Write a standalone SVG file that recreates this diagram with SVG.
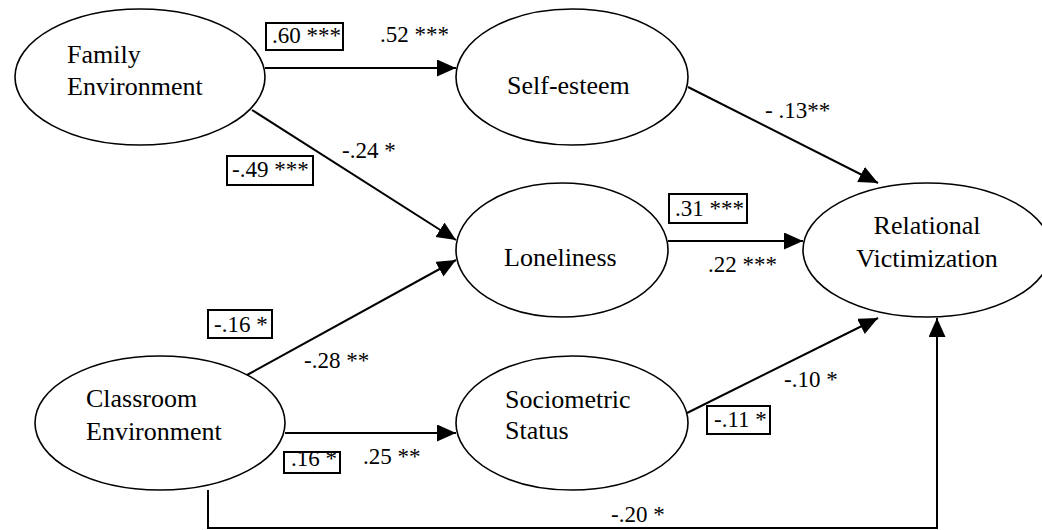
<svg xmlns="http://www.w3.org/2000/svg" width="1042" height="530" viewBox="0 0 1042 530">
<style>
.node{fill:#fff;stroke:#000;stroke-width:1.6}
.nt{font-size:26px;fill:#000}
.lt{font-size:23px;fill:#000}
.edge{fill:none;stroke:#000;stroke-width:2}
.box{fill:none;stroke:#000;stroke-width:2}
</style>
<defs>
<marker id="arr" markerUnits="userSpaceOnUse" markerWidth="20" markerHeight="18" refX="19" refY="8.5" orient="auto">
<path d="M0,0 L19,8.5 L0,17 z" fill="#000"/>
</marker>
</defs>
<rect width="1042" height="530" fill="#fff"/>
<g id="connectors">
<line class="edge" x1="265" y1="68" x2="456" y2="68" marker-end="url(#arr)"/>
<line class="edge" x1="252" y1="110" x2="456" y2="240" marker-end="url(#arr)"/>
<line class="edge" x1="688" y1="87" x2="878" y2="183" marker-end="url(#arr)"/>
<line class="edge" x1="668" y1="241" x2="803" y2="241" marker-end="url(#arr)"/>
<line class="edge" x1="247" y1="375" x2="456" y2="260" marker-end="url(#arr)"/>
<line class="edge" x1="285" y1="433" x2="456" y2="433" marker-end="url(#arr)"/>
<line class="edge" x1="687" y1="413" x2="878" y2="318" marker-end="url(#arr)"/>
<path class="edge" d="M208,490 V528 H937 V318" marker-end="url(#arr)"/>
</g>
<g font-family="Liberation Serif, Times New Roman, serif">
<g id="family">
<ellipse class="node" cx="140" cy="77" rx="125" ry="68"/>
<text class="nt" x="67" y="63">Family</text>
<text class="nt" x="67" y="95">Environment</text>
</g>
<g id="selfesteem">
<ellipse class="node" cx="572" cy="77" rx="116" ry="68"/>
<text class="nt" x="507" y="94">Self-esteem</text>
</g>
<g id="loneliness">
<ellipse class="node" cx="562" cy="250" rx="106" ry="67"/>
<text class="nt" x="504" y="266">Loneliness</text>
</g>
<g id="relational">
<ellipse class="node" cx="927" cy="250" rx="124" ry="67"/>
<text class="nt" x="927" y="234" text-anchor="middle">Relational</text>
<text class="nt" x="927" y="267" text-anchor="middle">Victimization</text>
</g>
<g id="classroom">
<ellipse class="node" cx="160" cy="423" rx="125" ry="67"/>
<text class="nt" x="86" y="407">Classroom</text>
<text class="nt" x="86" y="440">Environment</text>
</g>
<g id="sociometric">
<ellipse class="node" cx="572" cy="423" rx="116" ry="67"/>
<text class="nt" x="505" y="408">Sociometric</text>
<text class="nt" x="505" y="439">Status</text>
</g>
<g id="labels">
<rect class="box" x="266" y="23" width="77" height="27"/>
<text class="lt" x="272" y="43">.60 ***</text>
<text class="lt" x="380" y="42">.52 ***</text>
<rect class="box" x="227" y="156" width="86" height="29"/>
<text class="lt" x="232" y="177">-.49 ***</text>
<text class="lt" x="342" y="158">-.24 *</text>
<text class="lt" x="765" y="118">- .13**</text>
<rect class="box" x="669" y="194" width="78" height="29"/>
<text class="lt" x="675" y="216">.31 ***</text>
<text class="lt" x="708" y="272">.22 ***</text>
<rect class="box" x="208" y="310" width="64" height="28"/>
<text class="lt" x="214" y="332">-.16 *</text>
<text class="lt" x="304" y="368">-.28 **</text>
<rect class="box" x="284" y="452" width="56" height="21"/>
<text class="lt" x="291" y="466">.16 *</text>
<text class="lt" x="363" y="464">.25 **</text>
<text class="lt" x="784" y="387">-.10 *</text>
<rect class="box" x="707" y="406" width="63" height="28"/>
<text class="lt" x="714" y="427">-.11 *</text>
<text class="lt" x="611" y="522">-.20 *</text>
</g>
</g>
</svg>
